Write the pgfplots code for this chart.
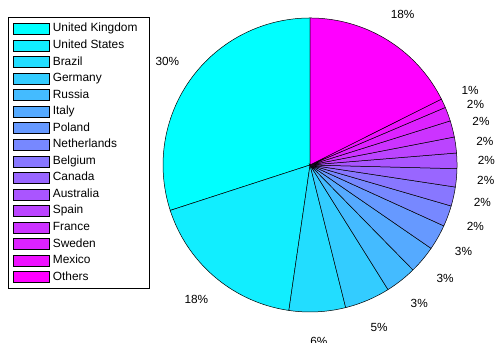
\documentclass[border=0pt]{standalone}
\usepackage{pgfplots}
\usepackage{pgfplotstable}
\pgfplotsset{compat=1.18}
\usepackage{fontspec}
\setmainfont{Liberation Sans}
\definecolor{coolA}{rgb}{0,1,1}
\definecolor{coolB}{rgb}{1,0,1}

\pgfplotstableread{
country pct
{United Kingdom} 30.0
{United States} 17.7
Brazil 6.2
Germany 5.0
Russia 3.45
Italy 3.05
Poland 2.8
Netherlands 2.3
Belgium 2.1
Canada 2.0
Australia 1.7
Spain 1.75
France 1.8
Sweden 1.55
Mexico 1.0
Others 17.6
}\piedata

\begin{document}
\begin{tikzpicture}
\useasboundingbox (0,0) rectangle (503bp,343bp);
\begin{axis}[
  at={(0,0)}, anchor=south west,
  scale only axis, hide axis, clip=false,
  x=147bp, y=147bp,
  xmin=-2.109, xmax=1.313, ymin=-1.211, ymax=1.122,
  legend cell align=left,
  legend style={at={(0.0159,0.9504)}, anchor=north west,
    draw=black, line width=0.7pt,
    font=\fontsize{11.9bp}{13bp}\selectfont,
    inner xsep=5bp, inner ysep=5bp,
    row sep=3.55bp, column sep=2.5bp,
    nodes={inner sep=0.5bp, text height=9bp, text depth=3bp}},
  legend image code/.code={\draw[#1, draw=black, line width=0.5pt] (0bp,-5.5bp) rectangle (36bp,5.5bp);},
]
\pgfmathsetmacro{\cum}{90}
\pgfplotsforeachungrouped \i in {0,...,15}{
  \pgfplotstablegetelem{\i}{pct}\of\piedata \let\v\pgfplotsretval
  \pgfplotstablegetelem{\i}{country}\of\piedata \let\nm\pgfplotsretval
  \pgfmathsetmacro{\a}{\cum}
  \pgfmathsetmacro{\b}{\cum+3.6*\v}
  \pgfmathsetmacro{\mix}{100*\i/15}
  \pgfmathsetmacro{\m}{(\a+\b)/2}
  \pgfmathsetmacro{\lx}{1.2*cos(\m)}
  \pgfmathsetmacro{\ly}{1.2*sin(\m)}
  \pgfmathtruncatemacro{\r}{round(\v)}
  \edef\tmp{\noexpand\addplot[draw=black, line width=0.5pt, fill=coolB!\mix!coolA, domain=\a:\b, samples=60, variable=\noexpand\t] ({cos(\noexpand\t)}, {sin(\noexpand\t)}) -- (axis cs:0,0) -- cycle;
    \noexpand\addlegendentry{\nm\noexpand\hspace*{6bp}}
    \noexpand\node[font=\noexpand\fontsize{11.8bp}{13bp}\noexpand\selectfont, anchor=center, inner sep=0pt] at (axis cs:\lx,\ly) {\r\noexpand\%};}
  \tmp
  \global\let\cum\b
}
\end{axis}
\end{tikzpicture}
\end{document}
